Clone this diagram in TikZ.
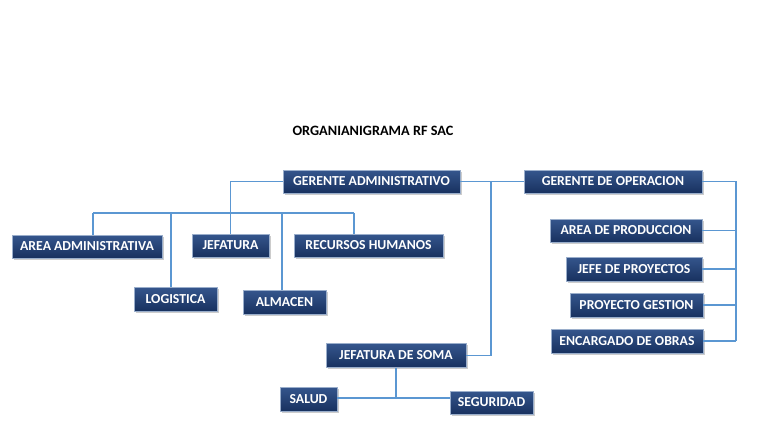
\documentclass[tikz,border=0pt]{standalone}
\usepackage{fontspec}
\setmainfont{Carlito}
\usetikzlibrary{shadows}
\definecolor{lineblue}{HTML}{5B97D2}
\definecolor{boxtop}{HTML}{35568D}
\definecolor{boxbot}{HTML}{18315F}
\definecolor{boxedge}{HTML}{9AAECB}
\tikzset{
  org/.style={draw=boxedge, line width=0.5pt, top color=boxtop, bottom color=boxbot,
    text=white, font=\bfseries\fontsize{10.3}{11}\selectfont, inner sep=0pt,
    drop shadow={shadow xshift=1.2pt, shadow yshift=-1.4pt, opacity=0.4}},
  sz/.style 2 args={minimum width=#1*0.75pt, minimum height=#2*0.75pt},
  link/.style={draw=lineblue, line width=1.2pt},
  ttl/.style={font=\bfseries\fontsize{10.7}{12}\selectfont, text=black},
}
\begin{document}
\begin{tikzpicture}[x=0.75pt,y=-0.75pt]
\useasboundingbox (0,0) rectangle (768,433);
\node[ttl] (title) at (373,131) {ORGANIANIGRAMA RF SAC};

\coordinate (busL) at (93,213);
\coordinate (busR) at (354,213);
\coordinate (bLog) at (171,213);
\coordinate (bAlm) at (282,213);
\coordinate (sj) at (491,181.5);
\coordinate (rb) at (736,181.5);
\coordinate (sm) at (396,398);

\node[org, sz={177}{23}] (ga) at (371.5,181.5) {GERENTE ADMINISTRATIVO};
\node[org, sz={178}{23}] (go) at (613,181.5) {GERENTE DE OPERACION};

\node[org, sz={150}{23}] (aa) at (87,246.5) {AREA ADMINISTRATIVA};
\node[org, sz={77}{23}] (jef) at (230.5,245.5) {JEFATURA};
\node[org, sz={149}{23}] (rh) at (368.5,245.5) {RECURSOS HUMANOS};
\node[org, sz={83}{24}] (log) at (175.5,299) {LOGISTICA};
\node[org, sz={83}{24}] (alm) at (284.5,302) {ALMACEN};

\node[org, sz={152}{23}] (ap) at (626,230.5) {AREA DE PRODUCCION};
\node[org, sz={136}{24}] (jp) at (634,269) {JEFE DE PROYECTOS};
\node[org, sz={133}{24}] (pg) at (636.5,305) {PROYECTO GESTION};
\node[org, sz={152}{24}] (eo) at (627,341) {ENCARGADO DE OBRAS};

\node[org, sz={140}{24}] (soma) at (396,355.5) {JEFATURA DE SOMA};
\node[org, sz={57}{24}] (sal) at (308.5,399) {SALUD};
\node[org, sz={83}{23}] (seg) at (491.5,402.5) {SEGURIDAD};

% administrative branch
\draw[link] (ga.west) -| (jef.north);
\draw[link] (busL) -- (busR);
\draw[link] (busL) -- (busL |- aa.north);
\draw[link] (bLog) -- (bLog |- log.north);
\draw[link] (bAlm) -- (bAlm |- alm.north);
\draw[link] (busR) -- (busR |- rh.north);

% GA to GO and SOMA
\draw[link] (ga.east) -- (go.west);
\draw[link] (sj) |- (soma.east);

% operations branch
\draw[link] (go.east) -- (rb) -- (rb |- eo.east);
\draw[link] (ap.east) -- (ap.east -| rb);
\draw[link] (jp.east) -- (jp.east -| rb);
\draw[link] (pg.east) -- (pg.east -| rb);
\draw[link] (eo.east) -- (eo.east -| rb);

% SOMA branch
\draw[link] (soma.south) -- (sm);
\draw[link] (sal.east |- sm) -- (seg.west |- sm);
\end{tikzpicture}
\end{document}
